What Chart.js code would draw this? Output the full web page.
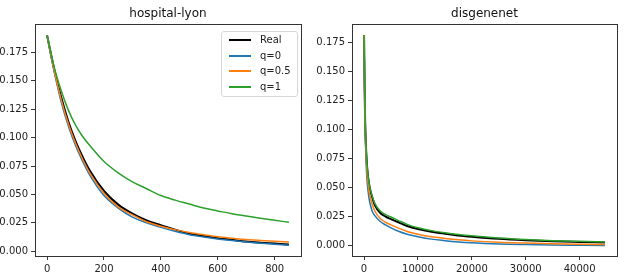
<!DOCTYPE html>
<html>
<head>
<meta charset="utf-8">
<script src="https://cdn.jsdelivr.net/npm/chart.js@4/dist/chart.umd.min.js"></script>
<style>
  body { margin: 0; background: #fff; width: 635px; height: 278px; overflow: hidden; font-family: "DejaVu Sans", sans-serif; }
  #wrapLeft { position: absolute; left: 0; top: 0; width: 310px; height: 278px; }
  #wrapRight { position: absolute; left: 310px; top: 0; width: 325px; height: 278px; }
  #legend {
    position: absolute; left: 221px; top: 31px; width: 75px; height: 64px;
    border: 1px solid #d6d6d6; border-radius: 3px; background: rgba(255,255,255,0.8);
    font-size: 10px; color: #222; box-sizing: content-box;
  }
  .leg-row { position: absolute; left: 0; height: 14px; line-height: 14px; }
  .leg-line { position: absolute; left: 7px; width: 22px; }
  .leg-text { position: absolute; left: 38px; white-space: nowrap; }
</style>
</head>
<body>
<div id="wrapLeft"><canvas id="lyonChart" width="310" height="278"></canvas></div>
<div id="wrapRight"><canvas id="disChart" width="325" height="278"></canvas></div>
<div id="legend"></div>
<script>
// hospital-lyon
const xLyon = [0, 25, 50, 75, 100, 125, 150, 200, 250, 300, 350, 400, 450, 500, 550, 600, 650, 700, 750, 800, 850];
const realLyon = [0.190, 0.160, 0.135, 0.114, 0.097, 0.083, 0.071, 0.053, 0.041, 0.033, 0.027, 0.023, 0.019, 0.0155, 0.0135, 0.0115, 0.0100, 0.0085, 0.0075, 0.0067, 0.0060];
const q0Lyon = [0.190, 0.158, 0.131, 0.110, 0.093, 0.079, 0.067, 0.049, 0.038, 0.030, 0.025, 0.021, 0.0175, 0.0145, 0.0125, 0.0108, 0.0094, 0.0082, 0.0071, 0.0062, 0.0053];
const q05Lyon = [0.190, 0.159, 0.133, 0.112, 0.095, 0.081, 0.069, 0.051, 0.039, 0.032, 0.026, 0.022, 0.019, 0.0165, 0.0145, 0.0128, 0.0114, 0.0103, 0.0095, 0.0088, 0.0082];
const q1Lyon = [0.190, 0.162, 0.141, 0.124, 0.111, 0.101, 0.093, 0.079, 0.069, 0.061, 0.055, 0.049, 0.045, 0.0415, 0.038, 0.0355, 0.033, 0.031, 0.029, 0.0272, 0.0255];
const xTicksLyon = [0, 200, 400, 600, 800];

// disgenenet
const xDis = [0, 100, 200, 300, 500, 750, 1000, 1500, 2000, 3000, 4000, 5000, 6500, 8000, 10000, 12500, 15000, 17500, 20000, 25000, 30000, 35000, 40000, 44700];
const realDis = [0.181, 0.140, 0.108, 0.092, 0.072, 0.059, 0.051, 0.042, 0.035, 0.0283, 0.0252, 0.0230, 0.0200, 0.0171, 0.0145, 0.0122, 0.0105, 0.0090, 0.0079, 0.0061, 0.0049, 0.0040, 0.0034, 0.0029];
const q0Dis = [0.181, 0.136, 0.102, 0.084, 0.060, 0.047, 0.039, 0.030, 0.026, 0.0210, 0.0180, 0.0155, 0.0123, 0.0100, 0.0079, 0.0058, 0.0045, 0.0034, 0.0026, 0.0016, 0.0011, 0.0007, 0.0005, 0.0003];
const q05Dis = [0.181, 0.138, 0.105, 0.088, 0.066, 0.053, 0.045, 0.036, 0.030, 0.0235, 0.0203, 0.0180, 0.0150, 0.0124, 0.0100, 0.0078, 0.0064, 0.0052, 0.0043, 0.0031, 0.0024, 0.0018, 0.0014, 0.0011];
const q1Dis = [0.181, 0.141, 0.109, 0.093, 0.073, 0.060, 0.052, 0.043, 0.0365, 0.030, 0.0268, 0.0248, 0.0215, 0.0185, 0.0155, 0.0131, 0.0113, 0.0098, 0.0086, 0.0067, 0.0054, 0.0045, 0.0039, 0.0034];
const xTicksDis = [0, 10000, 20000, 30000, 40000];

const yTicks = [0, 0.025, 0.05, 0.075, 0.1, 0.125, 0.15, 0.175];

const seriesNames = ['Real', 'q=0', 'q=0.5', 'q=1'];
const seriesColors = ['#000000', '#1f77b4', '#ff7f0e', '#2ca02c'];
const seriesWidths = [2, 1.5, 1.5, 1.5];

const FONT = { family: 'DejaVu Sans', size: 10 };
const AXIS_COLOR = '#333';

// matplotlib draws all four spines, and centres the title over the axes
const boxPlugin = {
    id: 'box',
    afterDraw(chart, args, opts) {
        const a = chart.chartArea;
        const ctx = chart.ctx;
        ctx.save();
        ctx.strokeStyle = AXIS_COLOR;
        ctx.lineWidth = 1;
        ctx.strokeRect(Math.round(a.left) + 0.5, Math.round(a.top) + 0.5, Math.round(a.right - a.left), Math.round(a.bottom - a.top));
        ctx.fillStyle = '#111';
        ctx.font = '12px "DejaVu Sans"';
        ctx.textAlign = 'center';
        ctx.textBaseline = 'middle';
        ctx.fillText(opts.text, (a.left + a.right) / 2, 14);
        ctx.restore();
    }
};

function makeDatasets(xs, lists) {
    return lists.map((ys, i) => ({
        label: seriesNames[i],
        data: xs.map((x, k) => ({ x: x, y: ys[k] })),
        borderColor: seriesColors[i],
        backgroundColor: seriesColors[i],
        borderWidth: seriesWidths[i],
        pointRadius: 0,
        cubicInterpolationMode: 'monotone',
        order: lists.length - i,
        fill: false
    }));
}

function makeChart(canvasId, title, xs, lists, xTicks, xr, yr, yWidth, padRight) {
    return new Chart(document.getElementById(canvasId).getContext('2d'), {
        type: 'line',
        data: { datasets: makeDatasets(xs, lists) },
        options: {
            responsive: false,
            animation: false,
            devicePixelRatio: 1,
            layout: { padding: { left: 0, right: padRight, top: 24, bottom: 0 } },
            plugins: {
                legend: { display: false },
                tooltip: { enabled: false },
                title: { display: false },
                box: { text: title }
            },
            scales: {
                x: {
                    type: 'linear',
                    min: xr[0], max: xr[1],
                    afterBuildTicks: s => { s.ticks = xTicks.map(v => ({ value: v })); },
                    afterFit: s => { s.height = 22; },
                    ticks: { color: '#222', font: FONT, padding: 3, maxRotation: 0, callback: v => String(v) },
                    grid: { display: true, drawOnChartArea: false, drawTicks: true, tickLength: 4, color: AXIS_COLOR },
                    border: { display: true, color: AXIS_COLOR }
                },
                y: {
                    type: 'linear',
                    min: yr[0], max: yr[1],
                    afterBuildTicks: s => { s.ticks = yTicks.map(v => ({ value: v })); },
                    afterFit: s => { s.width = yWidth; },
                    ticks: { color: '#222', font: FONT, padding: 3, callback: v => Number(v).toFixed(3) },
                    grid: { display: true, drawOnChartArea: false, drawTicks: true, tickLength: 4, color: AXIS_COLOR },
                    border: { display: true, color: AXIS_COLOR }
                }
            }
        },
        plugins: [boxPlugin]
    });
}

makeChart('lyonChart', 'hospital-lyon', xLyon, [realLyon, q0Lyon, q05Lyon, q1Lyon], xTicksLyon, [-42.5, 892.5], [-0.0042, 0.2], 35, 9);
makeChart('disChart', 'disgenenet', xDis, [realDis, q0Dis, q05Dis, q1Dis], xTicksDis, [-2235, 46935], [-0.0087, 0.1907], 42, 18);

// legend inside the left axes, top right
const legendEl = document.getElementById('legend');
seriesNames.forEach((name, i) => {
    const row = document.createElement('div');
    row.className = 'leg-row';
    row.style.top = Math.round(1 + i * 15.6) + 'px';
    row.style.width = '75px';
    row.innerHTML = `<span class="leg-line" style="top:6px;height:2px;background:${seriesColors[i]}"></span><span class="leg-text">${name}</span>`;
    legendEl.appendChild(row);
});
</script>
</body>
</html>
